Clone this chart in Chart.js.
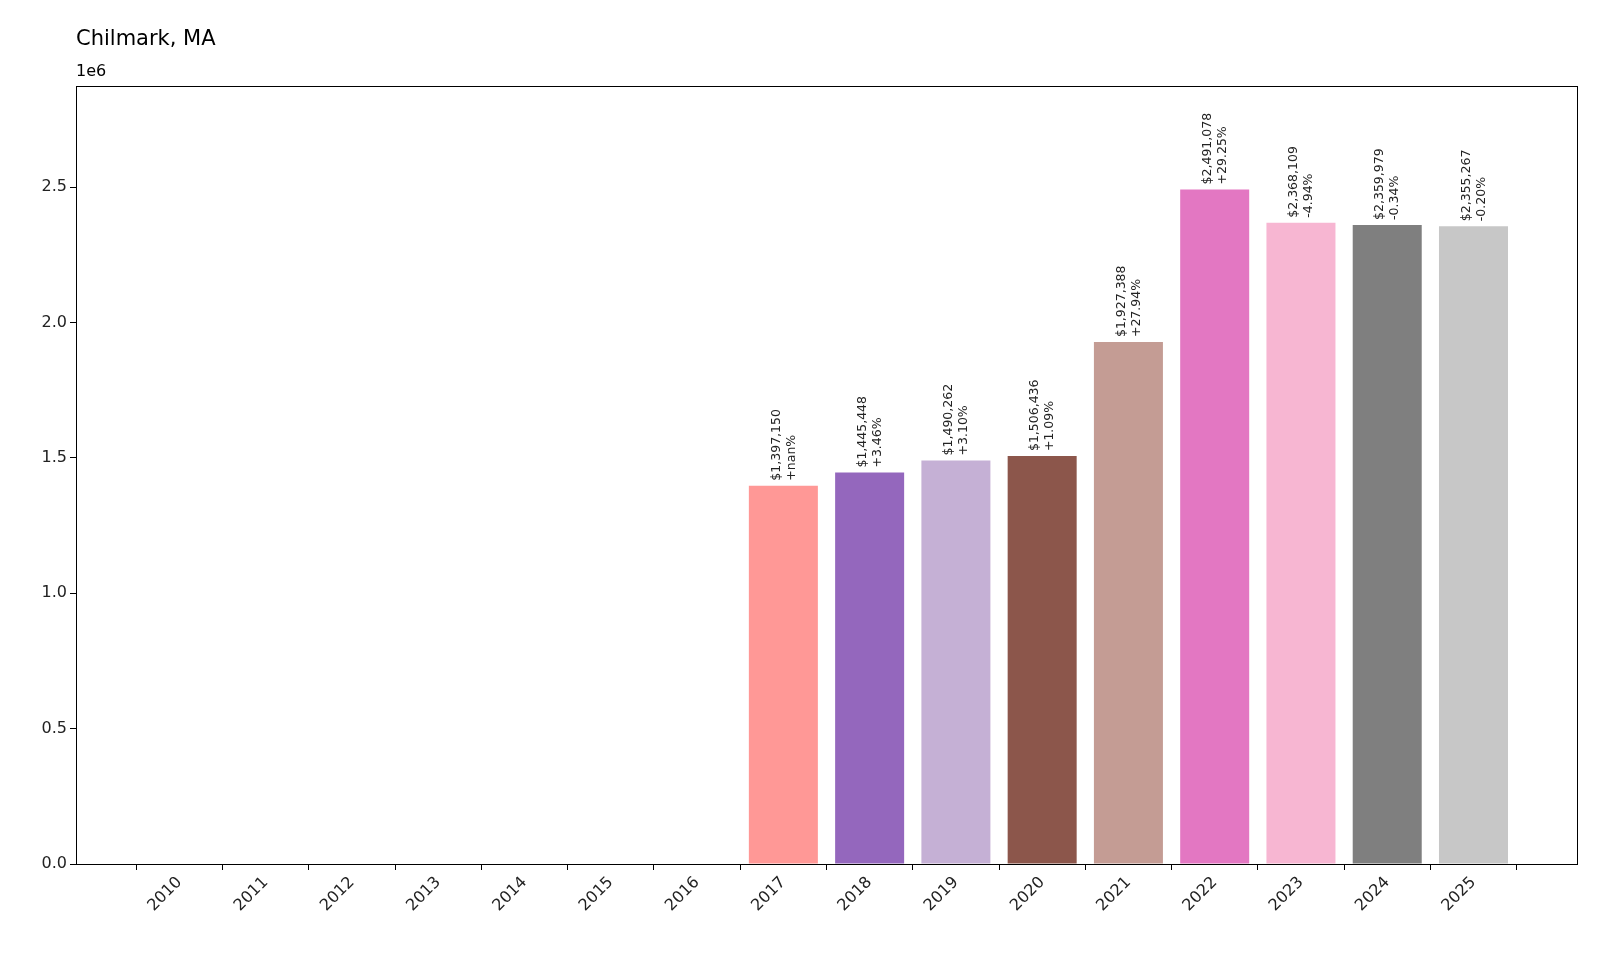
<!DOCTYPE html>
<html>
<head>
<meta charset="utf-8">
<script src="https://cdn.jsdelivr.net/npm/chart.js@4"></script>
<style>body{margin:0;background:#fff;overflow:hidden}#wrap{width:1600px;height:960px}</style>
</head>
<body>
<div id="wrap"><canvas id="myChart"></canvas></div>
<script>
const years = ['2010','2011','2012','2013','2014','2015','2016','2017','2018','2019','2020','2021','2022','2023','2024','2025'];
const values = [0,0,0,0,0,0,0,1397150,1445448,1490262,1506436,1927388,2491078,2368109,2359979,2355267];
const changes = ['','','','','','','','+nan%','+3.46%','+3.10%','+1.09%','+27.94%','+29.25%','-4.94%','-0.34%','-0.20%'];
const colors = ['#1f77b4','#aec7e8','#ff7f0e','#ffbb78','#2ca02c','#98df8a','#d62728','#ff9896','#9467bd','#c5b0d5','#8c564b','#c49c94','#e377c2','#f7b6d2','#7f7f7f','#c7c7c7'];

const FONT = 'DejaVu Sans';

const extras = {
  id: 'extras',
  afterDraw(chart) {
    const c = chart.ctx, a = chart.chartArea;
    const xs = chart.scales.x, ys = chart.scales.y;
    c.save();
    c.strokeStyle = '#000'; c.lineWidth = 1;
    c.strokeRect(a.left + 0.5, a.top + 0.5, a.right - a.left, a.bottom - a.top);
    c.fillStyle = '#000';
    c.font = '21px ' + FONT; c.textAlign = 'left'; c.textBaseline = 'alphabetic';
    c.fillText('Chilmark, MA', 76, 45);
    c.font = '16px ' + FONT;
    c.fillText('1e6', 76, 76);
    c.font = '12.5px ' + FONT;
    values.forEach((v, i) => {
      if (!v) return;
      const x = xs.getPixelForValue(i), y = ys.getPixelForValue(v) - 5;
      c.save();
      c.translate(x, y);
      c.rotate(-Math.PI / 2);
      c.textAlign = 'left';
      c.textBaseline = 'middle';
      c.fillStyle = '#222';
      c.fillText('$' + v.toLocaleString('en-US'), 0, -7);
      c.fillText(changes[i], 0, 8);
      c.restore();
    });
    c.restore();
  }
};

new Chart(document.getElementById('myChart'), {
  type: 'bar',
  data: {
    datasets: [{
      data: values.map((v, i) => ({ x: i, y: v })),
      backgroundColor: colors,
      barPercentage: 0.8,
      categoryPercentage: 1
    }]
  },
  options: {
    responsive: true,
    maintainAspectRatio: false,
    animation: false,
    layout: { padding: { top: 86, right: 23, left: 0, bottom: 0 } },
    plugins: { legend: { display: false }, tooltip: { enabled: false } },
    scales: {
      x: {
        type: 'linear', min: -1.2, max: 16.2, offset: false,
        afterFit(s) { s.height = 96; },
        afterBuildTicks(s) { s.ticks = years.map((y, i) => ({ value: i })); },
        grid: { display: true, drawOnChartArea: false, tickLength: 6, color: '#000' },
        border: { display: false },
        ticks: {
          color: '#222', font: { family: FONT, size: 16 },
          maxRotation: 45, minRotation: 45, autoSkip: false,
          callback: v => years[v]
        }
      },
      y: {
        min: 0, max: 2873000,
        afterFit(s) { s.width = 76; },
        afterBuildTicks(s) { s.ticks = [0,0.5,1,1.5,2,2.5].map(v => ({ value: v * 1e6 })); },
        grid: { display: true, drawOnChartArea: false, tickLength: 6, color: '#000' },
        border: { display: false },
        ticks: {
          color: '#222', font: { family: FONT, size: 16 },
          callback: v => (v / 1e6).toFixed(1)
        }
      }
    }
  },
  plugins: [extras]
});
</script>
</body>
</html>
